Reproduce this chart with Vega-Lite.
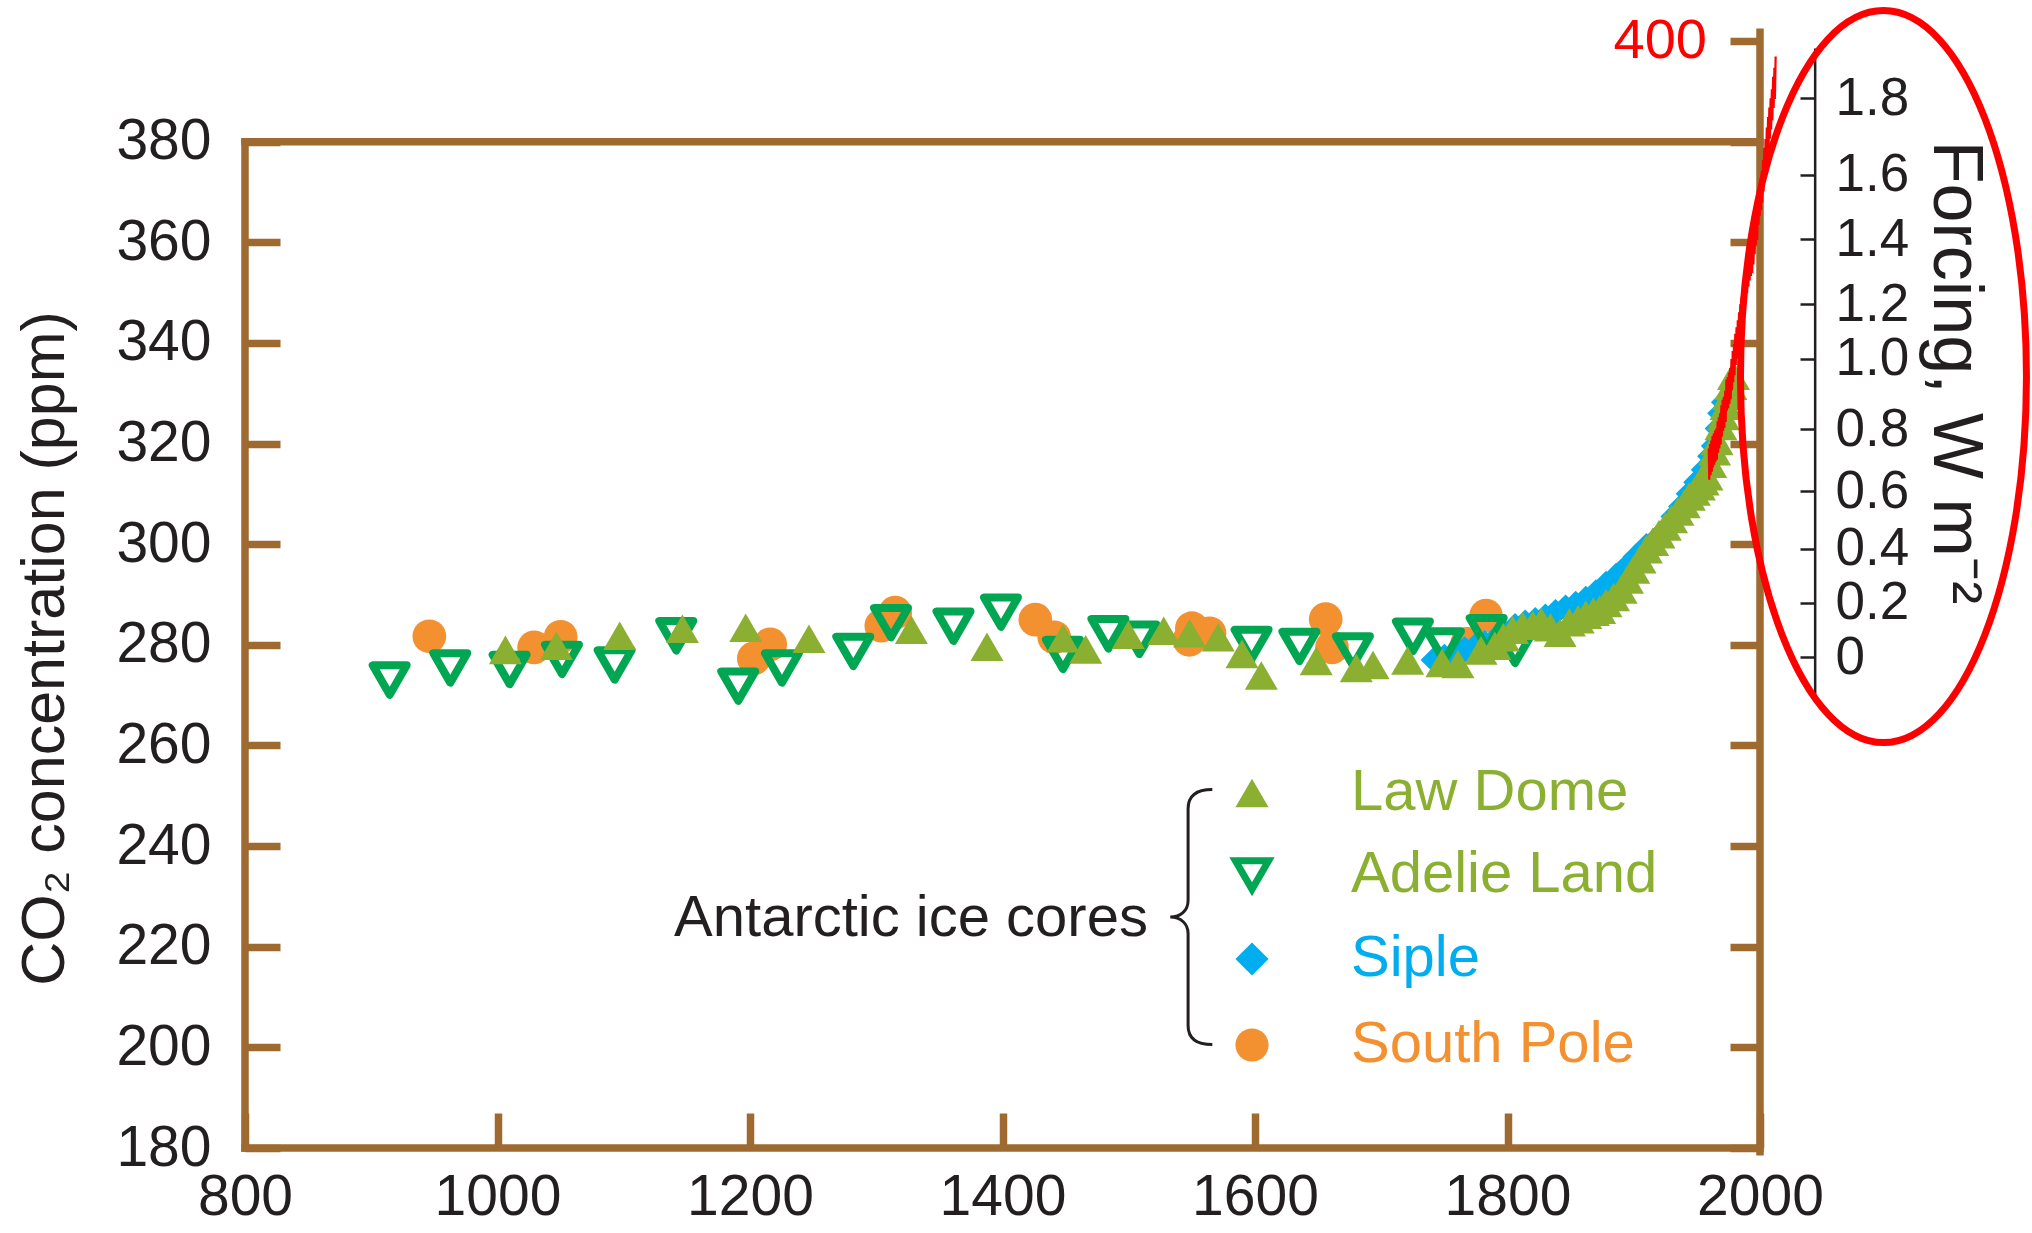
{
  "$schema": "https://vega.github.io/schema/vega-lite/v6.json",
  "width": 1515,
  "height": 1107,
  "autosize": {"type": "none"},
  "padding": {"left": 245, "top": 41, "right": 272, "bottom": 85},
  "background": "white",
  "config": {"view": {"stroke": null}, "font": "Liberation Sans"},
  "datasets": {
    "anno": [{}],
    "cores": [
      {"series": "South Pole", "year": 946, "ppm": 281.7},
      {"series": "South Pole", "year": 1029, "ppm": 279.5},
      {"series": "South Pole", "year": 1050, "ppm": 281.6},
      {"series": "South Pole", "year": 1203, "ppm": 277.3},
      {"series": "South Pole", "year": 1216, "ppm": 280.1},
      {"series": "South Pole", "year": 1304, "ppm": 283.8},
      {"series": "South Pole", "year": 1315, "ppm": 286.4},
      {"series": "South Pole", "year": 1426, "ppm": 285.0},
      {"series": "South Pole", "year": 1441, "ppm": 281.5},
      {"series": "South Pole", "year": 1548, "ppm": 281.0},
      {"series": "South Pole", "year": 1550, "ppm": 283.3},
      {"series": "South Pole", "year": 1564, "ppm": 282.3},
      {"series": "South Pole", "year": 1656, "ppm": 285.1},
      {"series": "South Pole", "year": 1661, "ppm": 279.5},
      {"series": "South Pole", "year": 1768, "ppm": 280.2},
      {"series": "South Pole", "year": 1783, "ppm": 285.8},
      {"series": "Siple", "year": 1742, "ppm": 277.0},
      {"series": "Siple", "year": 1750, "ppm": 277.5},
      {"series": "Siple", "year": 1758, "ppm": 278.3},
      {"series": "Siple", "year": 1766, "ppm": 279.0},
      {"series": "Siple", "year": 1774, "ppm": 279.5},
      {"series": "Siple", "year": 1782, "ppm": 280.2},
      {"series": "Siple", "year": 1790, "ppm": 281.0},
      {"series": "Siple", "year": 1798, "ppm": 282.2},
      {"series": "Siple", "year": 1806, "ppm": 283.6},
      {"series": "Siple", "year": 1814, "ppm": 284.3},
      {"series": "Siple", "year": 1822, "ppm": 284.8},
      {"series": "Siple", "year": 1830, "ppm": 285.5},
      {"series": "Siple", "year": 1838, "ppm": 286.4},
      {"series": "Siple", "year": 1846, "ppm": 287.3},
      {"series": "Siple", "year": 1854, "ppm": 288.0},
      {"series": "Siple", "year": 1862, "ppm": 289.0},
      {"series": "Siple", "year": 1870, "ppm": 290.3},
      {"series": "Siple", "year": 1878, "ppm": 292.0},
      {"series": "Siple", "year": 1886, "ppm": 293.6},
      {"series": "Siple", "year": 1894, "ppm": 295.4},
      {"series": "Siple", "year": 1902, "ppm": 297.5},
      {"series": "Siple", "year": 1910, "ppm": 299.5},
      {"series": "Siple", "year": 1918, "ppm": 301.0},
      {"series": "Siple", "year": 1926, "ppm": 303.0},
      {"series": "Siple", "year": 1932, "ppm": 305.5},
      {"series": "Siple", "year": 1938, "ppm": 307.5},
      {"series": "Siple", "year": 1944, "ppm": 310.0},
      {"series": "Siple", "year": 1950, "ppm": 312.3},
      {"series": "Siple", "year": 1956, "ppm": 314.8},
      {"series": "Siple", "year": 1961, "ppm": 317.5},
      {"series": "Siple", "year": 1964, "ppm": 319.5},
      {"series": "Siple", "year": 1967, "ppm": 323.0},
      {"series": "Siple", "year": 1969, "ppm": 326.0},
      {"series": "Siple", "year": 1972, "ppm": 328.2},
      {"series": "Adelie Land", "year": 914.6, "ppm": 273.0},
      {"series": "Adelie Land", "year": 962.6, "ppm": 275.4},
      {"series": "Adelie Land", "year": 1009.6, "ppm": 275.1},
      {"series": "Adelie Land", "year": 1051.1, "ppm": 277.1},
      {"series": "Adelie Land", "year": 1092.8, "ppm": 276.0},
      {"series": "Adelie Land", "year": 1141.6, "ppm": 281.8},
      {"series": "Adelie Land", "year": 1190.7, "ppm": 271.8},
      {"series": "Adelie Land", "year": 1225.3, "ppm": 275.4},
      {"series": "Adelie Land", "year": 1281.8, "ppm": 278.7},
      {"series": "Adelie Land", "year": 1311.7, "ppm": 284.4},
      {"series": "Adelie Land", "year": 1361.2, "ppm": 283.7},
      {"series": "Adelie Land", "year": 1398.8, "ppm": 286.5},
      {"series": "Adelie Land", "year": 1447.9, "ppm": 278.1},
      {"series": "Adelie Land", "year": 1483.9, "ppm": 282.2},
      {"series": "Adelie Land", "year": 1508.4, "ppm": 281.1},
      {"series": "Adelie Land", "year": 1597.3, "ppm": 280.1},
      {"series": "Adelie Land", "year": 1635.2, "ppm": 279.7},
      {"series": "Adelie Land", "year": 1677.6, "ppm": 278.8},
      {"series": "Adelie Land", "year": 1725.1, "ppm": 281.7},
      {"series": "Adelie Land", "year": 1749.7, "ppm": 279.8},
      {"series": "Adelie Land", "year": 1783.5, "ppm": 282.4},
      {"series": "Adelie Land", "year": 1806.0, "ppm": 279.3},
      {"series": "Law Dome", "year": 1006.3, "ppm": 279.0},
      {"series": "Law Dome", "year": 1046.6, "ppm": 279.8},
      {"series": "Law Dome", "year": 1096.8, "ppm": 281.8},
      {"series": "Law Dome", "year": 1146.5, "ppm": 283.2},
      {"series": "Law Dome", "year": 1196.6, "ppm": 283.4},
      {"series": "Law Dome", "year": 1246.7, "ppm": 281.2},
      {"series": "Law Dome", "year": 1327.8, "ppm": 283.0},
      {"series": "Law Dome", "year": 1387.7, "ppm": 279.6},
      {"series": "Law Dome", "year": 1447.9, "ppm": 281.3},
      {"series": "Law Dome", "year": 1465.9, "ppm": 279.1},
      {"series": "Law Dome", "year": 1499.7, "ppm": 282.0},
      {"series": "Law Dome", "year": 1527.7, "ppm": 282.8},
      {"series": "Law Dome", "year": 1548.2, "ppm": 282.3},
      {"series": "Law Dome", "year": 1570.9, "ppm": 281.5},
      {"series": "Law Dome", "year": 1589.7, "ppm": 278.2},
      {"series": "Law Dome", "year": 1605.0, "ppm": 273.9},
      {"series": "Law Dome", "year": 1648.5, "ppm": 276.8},
      {"series": "Law Dome", "year": 1680.2, "ppm": 275.4},
      {"series": "Law Dome", "year": 1693.5, "ppm": 276.0},
      {"series": "Law Dome", "year": 1720.9, "ppm": 276.9},
      {"series": "Law Dome", "year": 1748.1, "ppm": 276.4},
      {"series": "Law Dome", "year": 1760.8, "ppm": 276.2},
      {"series": "Law Dome", "year": 1779.0, "ppm": 278.9},
      {"series": "Law Dome", "year": 1790.0, "ppm": 279.8},
      {"series": "Law Dome", "year": 1796.7, "ppm": 281.5},
      {"series": "Law Dome", "year": 1804, "ppm": 283.0},
      {"series": "Law Dome", "year": 1812, "ppm": 283.8},
      {"series": "Law Dome", "year": 1820, "ppm": 284.0},
      {"series": "Law Dome", "year": 1826.8, "ppm": 284.6},
      {"series": "Law Dome", "year": 1834, "ppm": 283.5},
      {"series": "Law Dome", "year": 1841.6, "ppm": 282.4},
      {"series": "Law Dome", "year": 1849, "ppm": 284.5},
      {"series": "Law Dome", "year": 1856, "ppm": 285.1},
      {"series": "Law Dome", "year": 1862, "ppm": 286.0},
      {"series": "Law Dome", "year": 1868, "ppm": 286.6},
      {"series": "Law Dome", "year": 1873, "ppm": 287.0},
      {"series": "Law Dome", "year": 1878, "ppm": 288.3},
      {"series": "Law Dome", "year": 1884, "ppm": 289.5},
      {"series": "Law Dome", "year": 1890, "ppm": 291.0},
      {"series": "Law Dome", "year": 1895, "ppm": 293.0},
      {"series": "Law Dome", "year": 1900, "ppm": 295.0},
      {"series": "Law Dome", "year": 1905, "ppm": 297.0},
      {"series": "Law Dome", "year": 1910, "ppm": 299.0},
      {"series": "Law Dome", "year": 1915, "ppm": 300.5},
      {"series": "Law Dome", "year": 1920, "ppm": 302.0},
      {"series": "Law Dome", "year": 1925, "ppm": 303.5},
      {"series": "Law Dome", "year": 1930, "ppm": 305.0},
      {"series": "Law Dome", "year": 1935, "ppm": 306.5},
      {"series": "Law Dome", "year": 1940, "ppm": 308.0},
      {"series": "Law Dome", "year": 1944, "ppm": 309.5},
      {"series": "Law Dome", "year": 1948, "ppm": 310.5},
      {"series": "Law Dome", "year": 1952, "ppm": 311.5},
      {"series": "Law Dome", "year": 1955, "ppm": 312.5},
      {"series": "Law Dome", "year": 1958, "ppm": 313.5},
      {"series": "Law Dome", "year": 1961, "ppm": 316.0},
      {"series": "Law Dome", "year": 1964, "ppm": 318.5},
      {"series": "Law Dome", "year": 1966, "ppm": 320.5},
      {"series": "Law Dome", "year": 1969, "ppm": 323.5},
      {"series": "Law Dome", "year": 1971, "ppm": 325.5},
      {"series": "Law Dome", "year": 1973, "ppm": 327.5},
      {"series": "Law Dome", "year": 1975, "ppm": 329.5},
      {"series": "Law Dome", "year": 1977, "ppm": 331.5},
      {"series": "Law Dome", "year": 1979, "ppm": 333.5}
    ],
    "mlo": [
      {"year": 1959.4, "ppm": 319.0}, {"year": 1959.8, "ppm": 312.8},
      {"year": 1960.4, "ppm": 319.9}, {"year": 1960.8, "ppm": 313.7},
      {"year": 1961.4, "ppm": 320.6}, {"year": 1961.8, "ppm": 314.4},
      {"year": 1962.4, "ppm": 321.5}, {"year": 1962.8, "ppm": 315.3},
      {"year": 1963.4, "ppm": 322.0}, {"year": 1963.8, "ppm": 315.8},
      {"year": 1964.4, "ppm": 322.6}, {"year": 1964.8, "ppm": 316.4},
      {"year": 1965.4, "ppm": 323.0}, {"year": 1965.8, "ppm": 316.8},
      {"year": 1966.4, "ppm": 324.4}, {"year": 1966.8, "ppm": 318.2},
      {"year": 1967.4, "ppm": 325.2}, {"year": 1967.8, "ppm": 319.0},
      {"year": 1968.4, "ppm": 326.0}, {"year": 1968.8, "ppm": 319.8},
      {"year": 1969.4, "ppm": 327.6}, {"year": 1969.8, "ppm": 321.4},
      {"year": 1970.4, "ppm": 328.7}, {"year": 1970.8, "ppm": 322.5},
      {"year": 1971.4, "ppm": 329.3}, {"year": 1971.8, "ppm": 323.1},
      {"year": 1972.4, "ppm": 330.5}, {"year": 1972.8, "ppm": 324.3},
      {"year": 1973.4, "ppm": 332.7}, {"year": 1973.8, "ppm": 326.5},
      {"year": 1974.4, "ppm": 333.2}, {"year": 1974.8, "ppm": 327.0},
      {"year": 1975.4, "ppm": 334.1}, {"year": 1975.8, "ppm": 327.9},
      {"year": 1976.4, "ppm": 335.0}, {"year": 1976.8, "ppm": 328.8},
      {"year": 1977.4, "ppm": 336.8}, {"year": 1977.8, "ppm": 330.6},
      {"year": 1978.4, "ppm": 338.4}, {"year": 1978.8, "ppm": 332.2},
      {"year": 1979.4, "ppm": 339.8}, {"year": 1979.8, "ppm": 333.6},
      {"year": 1980.4, "ppm": 341.8}, {"year": 1980.8, "ppm": 335.6},
      {"year": 1981.4, "ppm": 343.1}, {"year": 1981.8, "ppm": 336.9},
      {"year": 1982.4, "ppm": 344.5}, {"year": 1982.8, "ppm": 338.3},
      {"year": 1983.4, "ppm": 346.1}, {"year": 1983.8, "ppm": 339.9},
      {"year": 1984.4, "ppm": 347.7}, {"year": 1984.8, "ppm": 341.5},
      {"year": 1985.4, "ppm": 349.1}, {"year": 1985.8, "ppm": 342.9},
      {"year": 1986.4, "ppm": 350.4}, {"year": 1986.8, "ppm": 344.2},
      {"year": 1987.4, "ppm": 352.2}, {"year": 1987.8, "ppm": 346.0},
      {"year": 1988.4, "ppm": 354.6}, {"year": 1988.8, "ppm": 348.4},
      {"year": 1989.4, "ppm": 356.1}, {"year": 1989.8, "ppm": 349.9},
      {"year": 1990.4, "ppm": 357.4}, {"year": 1990.8, "ppm": 351.2},
      {"year": 1991.4, "ppm": 358.6}, {"year": 1991.8, "ppm": 352.4},
      {"year": 1992.4, "ppm": 359.5}, {"year": 1992.8, "ppm": 353.3},
      {"year": 1993.4, "ppm": 360.1}, {"year": 1993.8, "ppm": 353.9},
      {"year": 1994.4, "ppm": 361.8}, {"year": 1994.8, "ppm": 355.6},
      {"year": 1995.4, "ppm": 363.8}, {"year": 1995.8, "ppm": 357.6},
      {"year": 1996.4, "ppm": 365.6}, {"year": 1996.8, "ppm": 359.4},
      {"year": 1997.4, "ppm": 366.7}, {"year": 1997.8, "ppm": 360.5},
      {"year": 1998.4, "ppm": 369.7}, {"year": 1998.8, "ppm": 363.5},
      {"year": 1999.4, "ppm": 371.4}, {"year": 1999.8, "ppm": 365.2},
      {"year": 2000.4, "ppm": 372.6}, {"year": 2000.8, "ppm": 366.4},
      {"year": 2001.4, "ppm": 374.1}, {"year": 2001.8, "ppm": 367.9},
      {"year": 2002.4, "ppm": 376.3}, {"year": 2002.8, "ppm": 370.1},
      {"year": 2003.4, "ppm": 378.8}, {"year": 2003.8, "ppm": 372.6},
      {"year": 2004.4, "ppm": 380.5}, {"year": 2004.8, "ppm": 374.3},
      {"year": 2005.4, "ppm": 382.8}, {"year": 2005.8, "ppm": 376.6},
      {"year": 2006.4, "ppm": 384.9}, {"year": 2006.8, "ppm": 378.7},
      {"year": 2007.4, "ppm": 386.8}, {"year": 2007.8, "ppm": 380.6},
      {"year": 2008.4, "ppm": 388.6}, {"year": 2008.8, "ppm": 382.4},
      {"year": 2009.4, "ppm": 390.4}, {"year": 2009.8, "ppm": 384.2},
      {"year": 2010.4, "ppm": 392.9}, {"year": 2010.8, "ppm": 386.7},
      {"year": 2011.4, "ppm": 394.7}, {"year": 2011.8, "ppm": 388.5},
      {"year": 2012.4, "ppm": 396.9}
    ]
  },
  "resolve": {"axis": {"x": "independent", "y": "independent"}},
  "layer": [
    {
      "data": {"name": "anno"},
      "mark": {"type": "rule", "color": "#9E6A30", "strokeWidth": 7.5, "strokeCap": "square"},
      "encoding": {
        "x": {"datum": 800, "type": "quantitative", "scale": {"domain": [800, 2000], "nice": false, "zero": false}, "axis": null},
        "x2": {"datum": 2000},
        "y": {"datum": 380, "type": "quantitative", "scale": {"domain": [180, 400], "nice": false, "zero": false}, "axis": null}
      }
    },
    {
      "data": {"name": "anno"},
      "mark": {"type": "rule", "color": "#9E6A30", "strokeWidth": 7.5, "strokeCap": "square"},
      "encoding": {
        "x": {"datum": 800, "type": "quantitative", "scale": {"domain": [800, 2000], "nice": false, "zero": false},
          "axis": {
            "orient": "bottom", "values": [800, 1000, 1200, 1400, 1600, 1800, 2000], "format": "d",
            "offset": -35, "tickSize": 35, "tickColor": "#9E6A30", "tickWidth": 7.5, "domain": false, "grid": false,
            "labelPadding": 21, "labelFont": "Liberation Sans", "labelFontSize": 57, "labelColor": "#231F20",
            "labelFlush": false, "labelOverlap": false, "title": null
          }
        },
        "x2": {"datum": 2000},
        "y": {"datum": 180, "type": "quantitative", "scale": {"domain": [180, 400], "nice": false, "zero": false}, "axis": null}
      }
    },
    {
      "data": {"name": "anno"},
      "mark": {"type": "rule", "color": "#9E6A30", "strokeWidth": 7.5, "strokeCap": "square"},
      "encoding": {
        "x": {"datum": 800, "type": "quantitative", "scale": {"domain": [800, 2000], "nice": false, "zero": false}, "axis": null},
        "y": {"datum": 180, "type": "quantitative", "scale": {"domain": [180, 400], "nice": false, "zero": false},
          "axis": {
            "orient": "left", "values": [180, 200, 220, 240, 260, 280, 300, 320, 340, 360, 380],
            "offset": -35, "tickSize": 35, "tickColor": "#9E6A30", "tickWidth": 7.5, "domain": false, "grid": false,
            "labelPadding": 34, "labelFont": "Liberation Sans", "labelFontSize": 57, "labelColor": "#231F20",
            "labelFlush": false, "labelOverlap": false,
            "title": "CO₂ concentration (ppm)", "titleFont": "Liberation Sans", "titleFontSize": 61,
            "titleFontWeight": "normal", "titleColor": "#231F20", "titleAngle": -90,
            "titleX": -217, "titleY": 607, "titleAlign": "center", "titleBaseline": "alphabetic"
          }
        },
        "y2": {"datum": 380}
      }
    },
    {
      "data": {"name": "anno"},
      "mark": {"type": "rule", "color": "#9E6A30", "strokeWidth": 7.5, "strokeCap": "butt"},
      "encoding": {
        "x": {"datum": 2000, "type": "quantitative", "scale": {"domain": [800, 2000], "nice": false, "zero": false}, "axis": null},
        "y": {"datum": 178.5, "type": "quantitative", "scale": {"domain": [180, 400], "nice": false, "zero": false},
          "axis": {
            "orient": "right", "values": [180, 200, 220, 240, 260, 280, 300, 320, 340, 360, 380, 400],
            "offset": -30, "tickSize": 30, "tickColor": "#9E6A30", "tickWidth": 7.5, "domain": false, "grid": false,
            "labels": false, "title": null
          }
        },
        "y2": {"datum": 402.5}
      }
    },
    {
      "data": {"name": "anno"},
      "mark": {"type": "rule", "color": "#231F20", "strokeWidth": 2.5},
      "encoding": {
        "x": {"datum": 2043.7, "type": "quantitative", "scale": {"domain": [800, 2000], "nice": false, "zero": false}, "axis": null},
        "y": {"datum": 269.5, "type": "quantitative", "scale": {"domain": [180, 400], "nice": false, "zero": false},
          "axis": {
            "orient": "right",
            "values": [277.48, 288.39, 299.05, 310.56, 322.8, 336.81, 347.72, 360.62, 373.39, 388.59],
            "labelExpr": "datum.value < 280 ? '0' : datum.value < 290 ? '0.2' : datum.value < 300 ? '0.4' : datum.value < 315 ? '0.6' : datum.value < 330 ? '0.8' : datum.value < 340 ? '1.0' : datum.value < 355 ? '1.2' : datum.value < 365 ? '1.4' : datum.value < 380 ? '1.6' : '1.8'",
            "offset": 40, "tickSize": 15, "tickColor": "#231F20", "tickWidth": 2.5, "domain": false, "grid": false,
            "labelPadding": 20, "labelFont": "Liberation Sans", "labelFontSize": 53, "labelColor": "#231F20",
            "labelFlush": false, "labelOverlap": false,
            "title": "Forcing, W m⁻²", "titleFont": "Liberation Sans", "titleFontSize": 70,
            "titleFontWeight": "normal", "titleColor": "#231F20", "titleAngle": 90,
            "titleX": 133, "titleY": 331, "titleAlign": "center", "titleBaseline": "alphabetic"
          }
        },
        "y2": {"datum": 398.5}
      }
    },
    {
      "data": {"name": "cores"},
      "mark": {"type": "point", "opacity": 1, "strokeWidth": 8, "strokeJoin": "round"},
      "encoding": {
        "x": {"field": "year", "type": "quantitative", "scale": {"domain": [800, 2000], "nice": false, "zero": false}, "axis": null},
        "y": {"field": "ppm", "type": "quantitative", "scale": {"domain": [180, 400], "nice": false, "zero": false}, "axis": null},
        "shape": {"field": "series", "type": "nominal",
          "scale": {"domain": ["Law Dome", "Adelie Land", "Siple", "South Pole"], "range": ["triangle-up", "triangle-down", "diamond", "circle"]},
          "legend": {"orient": "none", "legendX": 978, "legendY": 723, "title": null, "padding": 0, "rowPadding": 24, "labelOffset": 70, "symbolSize": 1100, "symbolStrokeWidth": 7, "labelFont": "Liberation Sans", "labelFontSize": 58, "labelLimit": 0, "symbolOpacity": 1,
            "labelColor": {"expr": "datum.value === 'Siple' ? '#00AEEF' : datum.value === 'South Pole' ? '#F39131' : '#8BAF30'"}}
        },
        "fill": {"field": "series", "type": "nominal",
          "scale": {"domain": ["Law Dome", "Adelie Land", "Siple", "South Pole"], "range": ["#8BAF30", "transparent", "#00AEEF", "#F39131"]},
          "legend": {"orient": "none", "legendX": 978, "legendY": 723, "title": null, "padding": 0, "rowPadding": 24, "labelOffset": 70, "symbolSize": 1100, "symbolStrokeWidth": 7, "labelFont": "Liberation Sans", "labelFontSize": 58, "labelLimit": 0, "symbolOpacity": 1,
            "labelColor": {"expr": "datum.value === 'Siple' ? '#00AEEF' : datum.value === 'South Pole' ? '#F39131' : '#8BAF30'"}}
        },
        "stroke": {"field": "series", "type": "nominal",
          "scale": {"domain": ["Law Dome", "Adelie Land", "Siple", "South Pole"], "range": ["transparent", "#00A651", "transparent", "transparent"]},
          "legend": {"orient": "none", "legendX": 978, "legendY": 723, "title": null, "padding": 0, "rowPadding": 24, "labelOffset": 70, "symbolSize": 1100, "symbolStrokeWidth": 7, "labelFont": "Liberation Sans", "labelFontSize": 58, "labelLimit": 0, "symbolOpacity": 1,
            "labelColor": {"expr": "datum.value === 'Siple' ? '#00AEEF' : datum.value === 'South Pole' ? '#F39131' : '#8BAF30'"}}
        },
        "size": {"field": "series", "type": "nominal",
          "scale": {"type": "ordinal", "domain": ["Siple", "Law Dome", "Adelie Land", "South Pole"], "range": [750, 1089, 1150, 1136]},
          "legend": null}
      }
    },
    {
      "data": {"name": "mlo"},
      "mark": {"type": "line", "color": "#FF0000", "strokeWidth": 2.2},
      "encoding": {
        "x": {"field": "year", "type": "quantitative", "scale": {"domain": [800, 2000], "nice": false, "zero": false}, "axis": null},
        "y": {"field": "ppm", "type": "quantitative", "scale": {"domain": [180, 400], "nice": false, "zero": false}, "axis": null}
      }
    },
    {
      "data": {"name": "anno"},
      "mark": {"type": "point", "shape": "M 0 -1 C 0.2158 -1 0.3907 -0.5523 0.3907 0 C 0.3907 0.5523 0.2158 1 0 1 C -0.2158 1 -0.3907 0.5523 -0.3907 0 C -0.3907 -0.5523 -0.2158 -1 0 -1 Z",
        "size": 535824, "filled": false, "color": "#FF0000", "stroke": "#FF0000", "strokeWidth": 7, "opacity": 1},
      "encoding": {
        "x": {"datum": 2097.8, "type": "quantitative", "scale": {"domain": [800, 2000], "nice": false, "zero": false}, "axis": null},
        "y": {"datum": 333.3, "type": "quantitative", "scale": {"domain": [180, 400], "nice": false, "zero": false}, "axis": null}
      }
    },
    {
      "data": {"name": "anno"},
      "mark": {"type": "point", "shape": "M 0.19 -1 C 0.06 -1 0 -0.95 0 -0.85 L 0 -0.13 C 0 -0.05 -0.06 0 -0.14 0 C -0.06 0 0 0.05 0 0.13 L 0 0.85 C 0 0.95 0.06 1 0.19 1",
        "size": 65025, "filled": false, "color": "#231F20", "stroke": "#231F20", "strokeWidth": 3, "opacity": 1},
      "encoding": {
        "x": {"datum": 1547, "type": "quantitative", "scale": {"domain": [800, 2000], "nice": false, "zero": false}, "axis": null},
        "y": {"datum": 225.9, "type": "quantitative", "scale": {"domain": [180, 400], "nice": false, "zero": false}, "axis": null}
      }
    },
    {
      "data": {"name": "anno"},
      "mark": {"type": "text", "text": "Antarctic ice cores", "align": "right", "baseline": "alphabetic", "font": "Liberation Sans", "fontSize": 58, "color": "#231F20"},
      "encoding": {
        "x": {"datum": 1515.2, "type": "quantitative", "scale": {"domain": [800, 2000], "nice": false, "zero": false}, "axis": null},
        "y": {"datum": 222.1, "type": "quantitative", "scale": {"domain": [180, 400], "nice": false, "zero": false}, "axis": null}
      }
    },
    {
      "data": {"name": "anno"},
      "mark": {"type": "text", "text": "400", "align": "right", "baseline": "middle", "dx": -53, "font": "Liberation Sans", "fontSize": 56, "color": "#FF0000"},
      "encoding": {
        "x": {"datum": 2000, "type": "quantitative", "scale": {"domain": [800, 2000], "nice": false, "zero": false}, "axis": null},
        "y": {"datum": 400, "type": "quantitative", "scale": {"domain": [180, 400], "nice": false, "zero": false}, "axis": null}
      }
    }
  ]
}
